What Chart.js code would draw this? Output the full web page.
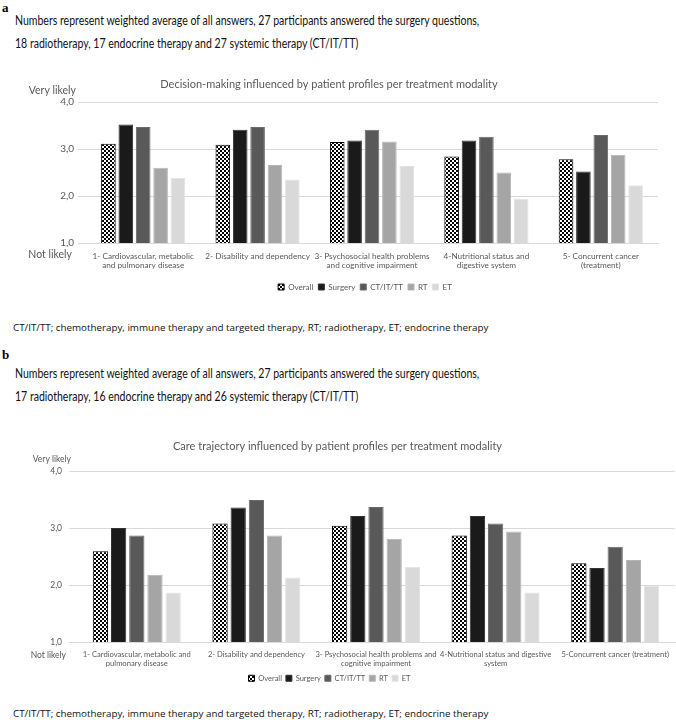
<!DOCTYPE html>
<html>
<head>
<meta charset="utf-8">
<script src="https://cdn.jsdelivr.net/npm/chart.js@4.4.0/dist/chart.umd.min.js"></script>
<style>
  body { margin: 0; background: #fff; width: 676px; height: 728px; position: relative; overflow: hidden; }
  .t { position: absolute; left: 15px; font-family: Lato, sans-serif; font-size: 13.5px; color: #111; white-space: nowrap; transform: scaleX(0.78); transform-origin: 0 0; }
  .lbl { position: absolute; left: 2px; font-family: "Liberation Serif", serif; font-weight: bold; font-size: 13px; }
  .cap { position: absolute; left: 13px; font-family: "Open Sans", sans-serif; font-size: 9.8px; color: #111; white-space: nowrap; }
  .box { position: absolute; left: 0; width: 676px; }
</style>
</head>
<body>
<div class="lbl" style="top:0px">a</div>
<div class="t" style="top:12px">Numbers represent weighted average of all answers, 27 participants answered the surgery questions,</div>
<div class="t" style="top:35px">18 radiotherapy, 17 endocrine therapy and 27 systemic therapy (CT/IT/TT)</div>
<div class="box" style="top:74px;height:227px"><canvas id="chartA"></canvas></div>
<div class="cap" style="top:321px">CT/IT/TT; chemotherapy, immune therapy and targeted therapy, RT; radiotherapy, ET; endocrine therapy</div>
<div class="lbl" style="top:347px">b</div>
<div class="t" style="top:365px">Numbers represent weighted average of all answers, 27 participants answered the surgery questions,</div>
<div class="t" style="top:388px">17 radiotherapy, 16 endocrine therapy and 26 systemic therapy (CT/IT/TT)</div>
<div class="box" style="top:436px;height:256px"><canvas id="chartB"></canvas></div>
<div class="cap" style="top:707px">CT/IT/TT; chemotherapy, immune therapy and targeted therapy, RT; radiotherapy, ET; endocrine therapy</div>

<script>
const seriesNames = ['Overall', 'Surgery', 'CT/IT/TT', 'RT', 'ET'];
const yTicks = ['1,0', '2,0', '3,0', '4,0'];

// a: decision-making
const categoriesA = [
  ['1- Cardiovascular, metabolic', 'and pulmonary disease'],
  '2- Disability and dependency',
  ['3- Psychosocial health problems', 'and cognitive impairment'],
  ['4-Nutritional status and', 'digestive system'],
  ['5- Concurrent cancer', '(treatment)']
];
const overallA = [3.11, 3.09, 3.15, 2.84, 2.78];
const surgeryA = [3.52, 3.41, 3.18, 3.18, 2.52];
const ctA = [3.47, 3.47, 3.41, 3.26, 3.30];
const rtA = [2.60, 2.66, 3.16, 2.50, 2.88];
const etA = [2.39, 2.35, 2.64, 1.94, 2.23];

// b: care trajectory
const categoriesB = [
  ['1- Cardiovascular, metabolic and', 'pulmonary disease'],
  '2- Disability and dependency',
  ['3- Psychosocial health problems and', 'cognitive impairment'],
  ['4-Nutritional status and digestive', 'system'],
  '5-Concurrent cancer (treatment)'
];
const overallB = [2.59, 3.08, 3.04, 2.87, 2.38];
const surgeryB = [3.00, 3.36, 3.21, 3.21, 2.30];
const ctB = [2.87, 3.49, 3.37, 3.08, 2.67];
const rtB = [2.18, 2.87, 2.81, 2.94, 2.44];
const etB = [1.87, 2.13, 2.32, 1.87, 1.99];

function checker() {
  let c = document.createElement('canvas');
  c.width = 4; c.height = 4;
  let g = c.getContext('2d');
  g.fillStyle = '#fff'; g.fillRect(0, 0, 4, 4);
  g.fillStyle = '#000'; g.fillRect(0, 0, 2, 2); g.fillRect(2, 2, 2, 2);
  return g.createPattern(c, 'repeat');
}
const fills = [checker(), '#1a1a1a', '#595959', '#a5a5a5', '#d9d9d9'];
const borders = ['#000', '#333', '#6a6a6a', '#b5b5b5', '#e2e2e2'];

// "Very likely" / "Not likely" beside the y axis, plus a nudge of the legend
const extras = {
  id: 'extras',
  afterLayout(chart, args, opts) {
    chart.legend.left += opts.shift;
    chart.legend.right += opts.shift;
  },
  afterDraw(chart, args, opts) {
    const ctx = chart.ctx, y = chart.scales.y;
    ctx.save();
    ctx.fillStyle = '#595959';
    ctx.font = opts.size + 'px Lato, sans-serif';
    ctx.textAlign = 'right';
    ctx.textBaseline = 'middle';
    ctx.fillText('Very likely', opts.x, y.top - opts.up);
    ctx.fillText('Not likely', opts.x2, y.bottom + opts.down);
    ctx.restore();
  }
};

function makeChart(id, title, cats, vals, cfg) {
  new Chart(document.getElementById(id), {
    type: 'bar',
    data: {
      labels: cats,
      datasets: vals.map((v, i) => ({
        label: seriesNames[i],
        data: v,
        backgroundColor: fills[i],
        borderColor: borders[i],
        borderWidth: 1,
        categoryPercentage: cfg.cat,
        barPercentage: 0.84
      }))
    },
    options: {
      responsive: true,
      maintainAspectRatio: false,
      animation: false,
      layout: { padding: { left: 0, right: cfg.right, top: 0, bottom: 0 } },
      plugins: {
        title: {
          display: true, text: title, color: '#595959',
          font: { family: 'Lato', size: 11, weight: 'normal' },
          padding: { top: cfg.titleTop, bottom: cfg.titleBottom }
        },
        legend: {
          position: 'bottom',
          labels: {
            color: '#595959', boxWidth: 6, boxHeight: 6, padding: cfg.legPad,
            font: { family: 'Lato', size: cfg.legFont }
          }
        },
        tooltip: { enabled: false },
        extras: cfg.extras
      },
      scales: {
        x: {
          grid: { display: false },
          border: { color: '#d9d9d9' },
          ticks: { color: '#595959', font: { family: 'Lato', size: cfg.tick }, maxRotation: 0, autoSkip: false, padding: 0 },
          afterFit: s => { s.height = cfg.xh; }
        },
        y: {
          min: 1, max: 4,
          grid: { color: '#d9d9d9' },
          border: { display: false },
          ticks: {
            stepSize: 1, color: '#595959', font: { family: 'Lato', size: cfg.ytick }, padding: cfg.ypad,
            callback: (v) => yTicks[v - 1]
          },
          afterFit: s => { s.width = cfg.left; }
        }
      }
    },
    plugins: [extras]
  });
}

makeChart('chartA', 'Decision-making influenced by patient profiles per treatment modality', categoriesA,
  [overallA, surgeryA, ctA, rtA, etA],
  { left: 86, right: 18, cat: 0.76, tick: 8.2, ytick: 10, ypad: 4, titleTop: 3.4, titleBottom: 11.4, xh: 35,
    legPad: 5, legFont: 8,
    extras: { x: 76, x2: 72, up: 11, down: 12, size: 10.5, shift: 36 } });

makeChart('chartB', 'Care trajectory influenced by patient profiles per treatment modality', categoriesB,
  [overallB, surgeryB, ctB, rtB, etB],
  { left: 77, right: 1, cat: 0.76, tick: 7.6, ytick: 8.5, ypad: 7, titleTop: 3.4, titleBottom: 18.4, xh: 28.5,
    legPad: 4, legFont: 7.5,
    extras: { x: 71, x2: 66, up: 12, down: 13, size: 8.5, shift: -8 } });
</script>
</body>
</html>
